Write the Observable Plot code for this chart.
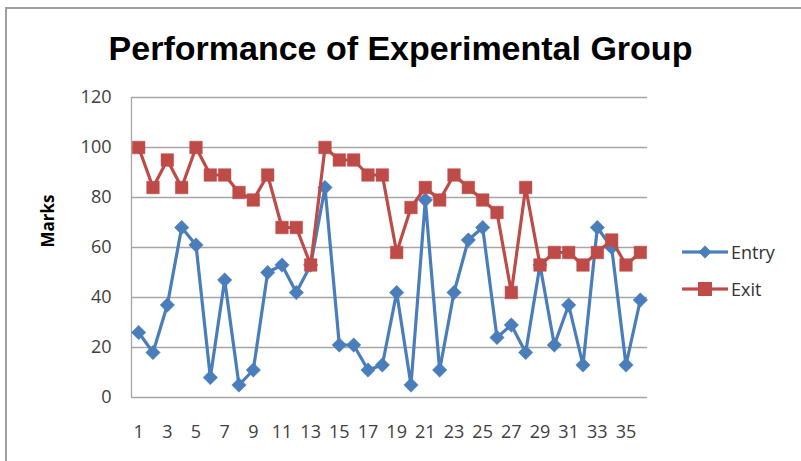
<!DOCTYPE html>
<html><head><meta charset="utf-8">
<script src="https://cdn.jsdelivr.net/npm/d3@7"></script>
<script src="https://cdn.jsdelivr.net/npm/@observablehq/plot@0.6"></script>
<style>
html,body{margin:0;padding:0;background:#fff;}
#wrap{position:relative;width:801px;height:461px;overflow:hidden;}
#frame{position:absolute;left:5px;top:7px;width:820px;height:480px;border-left:2px solid #a0a0a0;border-top:2px solid #a0a0a0;box-sizing:border-box;}
#title{position:absolute;left:0;width:801px;top:29px;text-align:center;font-family:"Liberation Sans Narrow","Liberation Sans",sans-serif;font-weight:bold;font-size:34px;color:#000;}
#legend{position:absolute;left:682px;top:233px;font-family:"Open Sans","Liberation Sans",sans-serif;font-size:18px;color:#333;}
#legend div{height:37px;display:flex;align-items:center;}
#legend svg{margin-right:2px;}
#chart{position:absolute;left:0;top:0;}
</style></head>
<body><div id="wrap"><div id="frame"></div><div id="chart"></div><div id="title">Performance of Experimental Group</div><div id="legend"></div></div>
<script>
const students = d3.range(1, 37);
const entry = [26,18,37,68,61,8,47,5,11,50,53,42,53,84,21,21,11,13,42,5,79,11,42,63,68,24,29,18,53,21,37,13,68,60,13,39];
const exit  = [100,84,95,84,100,89,89,82,79,89,68,68,53,100,95,95,89,89,58,76,84,79,89,84,79,74,42,84,53,58,58,53,58,63,53,58];
const yTicks = [0,20,40,60,80,100,120];
const xTickLabels = students.filter(d => d % 2 === 1);
const seriesNames = ["Entry", "Exit"];
const colors = ["#4a7ebb", "#be4b48"];

const entryData = students.map((s, i) => ({s, v: entry[i]}));
const exitData = students.map((s, i) => ({s, v: exit[i]}));

const font = "'Open Sans','Liberation Sans',sans-serif";
const plot = Plot.plot({
  width: 801, height: 461,
  marginLeft: 131, marginRight: 154, marginTop: 97, marginBottom: 64,
  style: {fontFamily: font, fontSize: "18px", color: "#404040", background: "transparent", maxWidth: "none"},
  x: {type: "point", domain: students, padding: 0.5, round: false, label: null},
  y: {domain: [0, 120], label: null},
  marks: [
    Plot.ruleY(yTicks, {stroke: "#a6a6a6", strokeWidth: 1.3}),
    Plot.ruleX([students[0]], {stroke: "#a6a6a6", strokeWidth: 1.3, dx: -7.17, y1: 0, y2: 120}),
    Plot.axisY({ticks: yTicks, tickSize: 0, tickPadding: 20, label: null, fill: "#404040", fontSize: 18}),
    Plot.axisX({ticks: xTickLabels, tickSize: 0, tickPadding: 28, label: null, fill: "#404040", fontSize: 18}),
    Plot.line(entryData, {x: "s", y: "v", stroke: colors[0], strokeWidth: 3.2}),
    Plot.dot(entryData, {x: "s", y: "v", symbol: "diamond2", r: 6.5, fill: colors[0], stroke: colors[0], strokeWidth: 0.5}),
    Plot.line(exitData, {x: "s", y: "v", stroke: colors[1], strokeWidth: 3.2}),
    Plot.dot(exitData, {x: "s", y: "v", symbol: "square2", r: 8, fill: colors[1], stroke: colors[1], strokeWidth: 0.5}),
    Plot.text(["Marks"], {frameAnchor: "left", dx: -83, rotate: -90, fontWeight: "bold", fontSize: 17, fill: "#000"})
  ]
});
document.getElementById("chart").appendChild(plot);

const legend = document.getElementById("legend");
seriesNames.forEach((name, i) => {
  const row = document.createElement("div");
  const sym = i === 0
    ? `<rect x="0" y="-1.6" width="46" height="3.2" fill="${colors[i]}"/><path d="M23,-6.5L29.5,0L23,6.5L16.5,0Z" fill="${colors[i]}"/>`
    : `<rect x="0" y="-1.6" width="46" height="3.2" fill="${colors[i]}"/><rect x="16" y="-7" width="14" height="14" fill="${colors[i]}"/>`;
  row.innerHTML = `<svg width="47" height="16" viewBox="0 -8 47 16">${sym}</svg><span>${name}</span>`;
  legend.appendChild(row);
});
</script></body></html>
